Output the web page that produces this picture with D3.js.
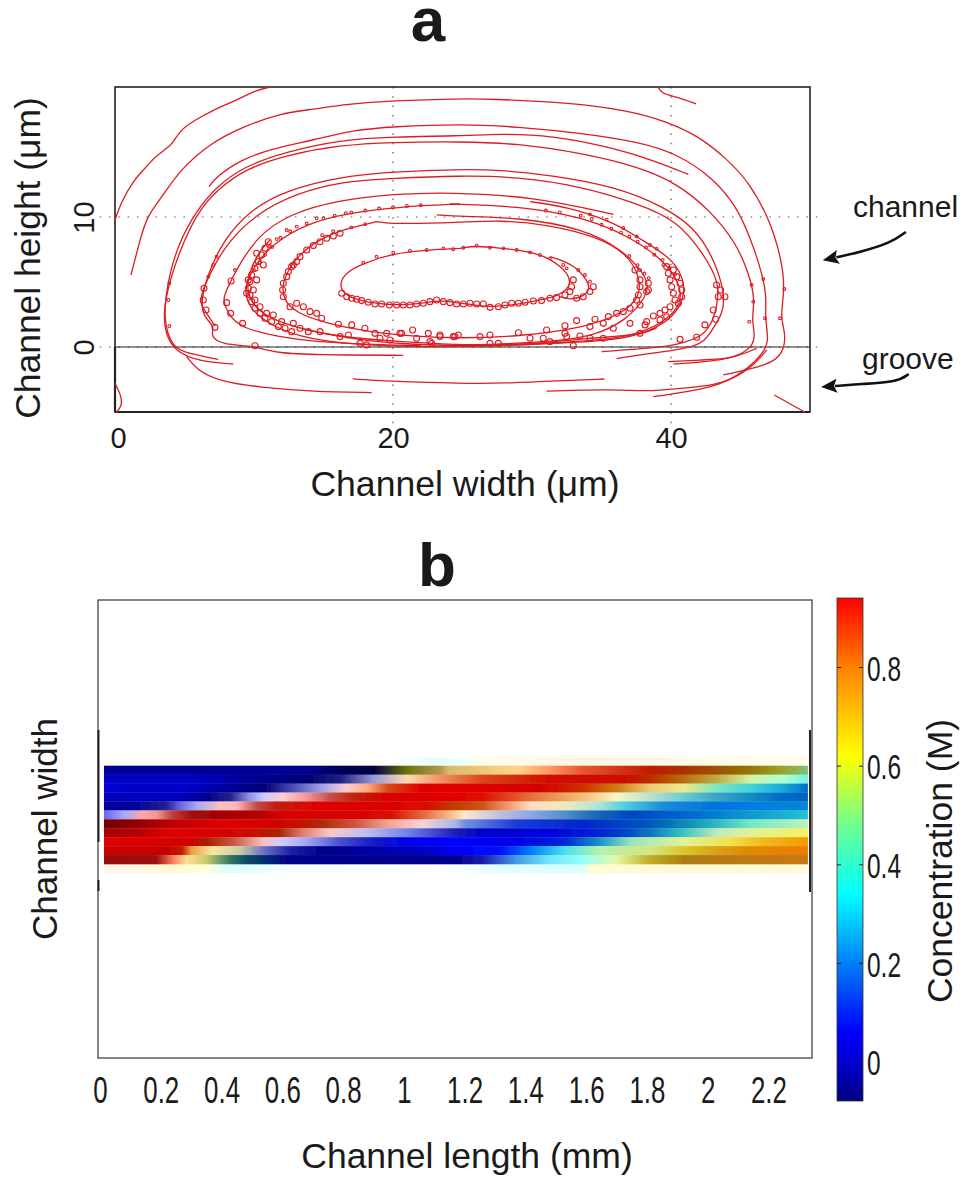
<!DOCTYPE html>
<html>
<head>
<meta charset="utf-8">
<title>Channel flow and concentration</title>
<script src="https://cdnjs.cloudflare.com/ajax/libs/d3/7.8.5/d3.min.js"></script>
<style>
	html, body { margin: 0; padding: 0; background: #fff; }
	svg { display: block; }
	text { font-family: "Liberation Sans", Arial, sans-serif; fill: #1a1a1a; }
	.domain { display: none; }
</style>
</head>
<body>
<svg id="chart" width="962" height="1177"></svg>
<script>
/* panel a: particle paths, channel width (um) / channel height (um) */
const widthTicks = [0, 20, 40];
const heightTicks = [0, 10];
const gridWidths = [20, 40];
const gridHeights = [0, 10];

const streamlines = [
	[[0,9.77],[.36,10.93],[1.32,12.85],[2.4,14.0],[2.76,14.51],[3.6,15.2],[4.08,15.54],[4.68,16.69],[5.76,17.46],[7.07,18.23],[8.51,18.87],[10.19,19.77],[11.15,20.0]],
	[[1.15,5.54],[1.8,8.23],[2.28,10.03],[3.48,11.69],[4.68,13.62],[6.83,15.67],[9.23,16.95],[11.87,17.98],[14.27,18.28],[16.67,18.69],[20.02,18.95],[24.82,19.1],[26.98,19.08],[32.49,18.82],[37.05,18.18],[39.69,17.33],[41.85,16.31],[44,14.51],[45.68,12.59],[47.12,9.77],[47.96,6.69],[48.2,4.51],[47.84,2.21],[48.27,1.05],[48.08,-.48],[47.12,-1.38],[43.76,-2.15]],
	[[6.76,12.33],[7.31,13.1],[8.99,14.39],[11.39,15.28],[14.27,15.92],[17.15,16.69],[20.02,16.95],[24.82,17.16],[28.9,16.95],[33.69,16.44],[37.53,15.8],[40.41,14.9],[43.04,13.0],[44.72,10.8],[45.68,8.49],[46.64,5.41],[46.88,3.62],[46.76,2.21],[47,.8],[46.88,-.23],[45.2,-2.02],[43.04,-3.18],[38.73,-3.82]],
	[[7.43,-.95],[5.16,-.48],[4.08,.03],[3.48,2.08],[3.72,4.64],[4.44,7.72],[5.88,10.54],[7.31,12.33],[9.23,13.87],[12.35,15.03],[16.19,15.92],[20.02,16.18],[24.82,16.23],[27.7,16.39],[31.29,16.31],[36.09,15.28],[38.97,14.26],[41.25,13.28]],
	[[8.51,-1.31],[6.11,-1.13],[4.32,-.36],[3.6,1.05],[3.48,2.85],[3.96,5.16],[4.68,7.46],[5.88,10.28],[7.31,12.08],[9.47,13.75],[12.35,14.77],[16.19,15.54],[20.02,15.75],[24.82,15.8],[28.9,15.67],[33.69,14.9],[37.77,13.82],[40.41,12.59],[42.8,10.54],[44.72,7.98],[45.68,5.41],[46.04,3.62],[45.8,2.08],[46.04,1.05],[45.92,.03],[44.48,-.98],[40.17,-1.31]],
	[[18.46,-3.51],[14.27,-3.43],[10.43,-3.1],[7.55,-2.66],[5.88,-1.77],[5.16,-.75]],
	[[20.74,-.64],[14.51,-.61],[11.63,-.48],[9.95,.1],[7.79,.16],[6.83,.8],[7.19,1.57],[6.59,2.08],[6.11,3.1],[6.59,5.41],[7.79,8.23],[9.71,10.54],[12.35,12.08],[16.19,13.1],[20.02,13.49],[24.82,13.67],[27.7,13.62],[31.29,13.23],[36.09,12.33],[39.45,10.8],[41.61,9.26],[43.04,6.95],[43.88,4.13],[43.76,2.59],[42.8,1.05],[42.09,0],[38.49,-.48],[36.09,-.89]],
	[[35.01,-.36],[39.93,.03],[40.65,.28],[42.32,.8],[43.04,2.08],[43.28,3.1],[43.52,4.9],[42.32,7.21],[40.41,9.77],[37.53,11.05],[33.69,12.33],[28.9,13.1],[24.82,13.18],[20.02,12.98],[16.19,12.72],[13.07,11.82],[10.19,10.28],[8.03,7.98],[6.83,5.67],[6.23,4.13],[6.11,3.36],[6.59,2.59],[7.2,1.6]],
	[[35.85,10.21],[30.1,11.57],[24.1,11.9],[20.02,11.77],[16.19,11.31],[12.59,10.28],[10.19,8.49],[8.75,6.0],[7.91,4.13],[7.79,3.62],[8.03,2.85],[8.39,2.21],[9.23,1.44],[11.63,.8],[14.5,.4],[18,.2],[22,.1]],
	[[29.86,11.18],[32.5,10.8],[35.9,9.6],[37.8,8.3],[39.9,6.95],[40.9,5.4],[41,3.9],[40.2,2.3],[38.5,1.2],[36,.5],[32,.3],[28,.15],[24,.1]],
	[[24.82,11.0],[20.5,10.8],[16.67,10.28],[13.79,9.5],[11.39,7.98],[9.95,6.18],[9.23,4.39],[9.71,2.85],[11.39,1.57],[13.31,.8],[16.19,.28],[20.5,.03],[24.82,.03],[28.5,.1],[33,.4],[35.6,.6],[37.8,1.05],[39.7,2.08],[40.77,3.36],[40.65,4.9],[39.45,6.7],[37.05,8.49],[33.69,10.0],[28.9,10.85],[24.1,11.0]],
	[[23.14,10.16],[24.82,10.03],[28.9,9.98],[33.69,9.13],[36.57,7.46],[38.49,5.16],[38.25,3.87],[36.81,2.08],[34.41,.8],[31.29,.41],[26.5,.16],[24.82,.16],[20.5,.41],[15.71,.8],[11.87,1.82],[10.19,2.85],[9.47,4.13],[9.59,5.67],[10.43,7.46],[11.15,8.23]],
	[[18.82,9.64],[16.67,9.13],[14.51,8.23],[12.83,6.69],[11.99,4.9],[12.11,3.62],[13.07,2.59],[15.23,1.82],[18.1,1.18],[21.7,.8],[24.82,.67],[28.9,.8],[33.69,1.44],[36.57,2.59],[37.77,3.87],[37.77,5.41],[36.81,7.21],[34.65,8.49],[31.29,9.39],[27.7,9.77],[24.82,9.57],[20.02,9.46],[18.82,9.64]],
	[[24.82,7.59],[22.42,7.46],[20.02,7.21],[17.86,6.44],[16.43,5.67],[16.07,4.39],[17.15,3.62],[19.54,3.2],[21.94,3.31],[23.38,3.62],[24.82,3.36],[25.5,3.31],[27.2,3.0],[29.62,3.41],[32.01,3.87],[32.97,4.9],[32.25,6.18],[30.33,7.34],[27.7,7.6],[26,7.8],[24.82,7.59]],
	[[31.29,6.95],[32.97,6.44],[34.41,4.64],[33.69,3.87],[32.73,3.62],[32.01,3.87]],
	[[17.1,-2.45],[20.02,-2.66],[24.82,-2.8],[28,-2.8],[32,-2.6],[35.2,-2.46]],
	[[31.05,-3.4],[35.6,-3.25],[38.73,-3.43],[39.93,-3.2],[43.28,-3.05],[45.68,-1.77],[46.88,-.23]],
	[[39.8,-1.13],[42.09,-1.0],[44.48,-.89],[46.16,-.1]],
	[[47.43,-3.69],[49.64,-5.02]],
	[[0,-2.79],[.48,-3.82],[.48,-4.6],[.07,-5.05]],
	[[39.08,20],[39.3,19.5],[40.4,19.25],[41.8,18.7]],
	[[13.5,1.4],[17,.6],[21,.2],[24.8,.1],[30,.2],[34,.7],[37.8,.9],[39,1.5]]
];

/* loops the particles make on their way round */
const loops = [
	[16.31,4.13],[16.67,3.87],[17.03,3.75],[17.39,3.67],[17.74,3.57],[18.22,3.44],[18.7,3.31],[19.18,3.31],[19.74,3.23],[20.26,3.23],[20.74,3.23],[21.22,3.23],[21.7,3.31],[22.18,3.36],[22.66,3.49],[23.14,3.62],[23.62,3.49],[24.1,3.41],[24.58,3.31],
	[25.06,3.31],[25.54,3.36],[26.02,3.31],[26.5,3.31],[26.98,3.05],[27.58,3.1],[28.06,3.23],[28.54,3.36],[29.02,3.36],[29.5,3.44],[30.1,3.54],[30.69,3.57],[31.29,3.75],[31.77,3.8],[32.37,4.0],[32.73,4.26],[32.85,4.64],[32.97,5.16],[33.21,3.75],[33.69,3.87],[34.17,4.26],[34.41,4.64],
	[12.71,6.18],[12.47,5.8],[12.35,5.41],[12.11,4.9],[12.06,4.39],[12.11,3.87],[12.59,3.1],[13.07,3.36],[13.55,3.1],[14.03,2.72],[14.51,2.59],[14.87,2.21],[16.07,1.75],[17.03,1.7],[17.98,1.44],[18.7,1.05],[19.54,1.05],[20.5,1.05],[21.41,1.31],[22.54,1.05],[23.38,.92],[24.34,.8],
	[13.31,6.95],[13.79,7.46],[14.27,7.8],[14.75,8.1],[15.23,8.36],[15.71,8.54],[16.19,8.75],[13.07,6.57],[12.83,6.31],
	[11.03,8.1],[10.79,7.59],[10.55,7.08],[10.31,6.57],[10.07,6.05],[9.83,5.54],[9.71,5.03],[9.59,4.51],[9.71,4.0],[9.83,3.49],[10.07,2.98],[10.43,2.59],[10.79,2.21],[11.27,1.95],[11.75,1.57],[12.23,1.44],[12.71,1.18],[13.31,1.44],[13.91,1.18],[14.75,1.18],[10.19,5.16],[9.95,4.39],[10.07,3.62],[10.43,3.1],[10.91,2.59],[9.47,4.13],[9.59,5.16],[11.39,2.46],[11.99,1.95],[12.83,1.82],[10.19,7.21],[10.67,6.31],
	[16.19,.8],[16.79,.92],[19.06,.67],[19.78,.54],[20.62,1.05],[21.7,.67],[22.66,.41],[23.38,.8],[24.46,.8],[17.63,.28],[18.1,.16],[22.78,.28],
	[6.4,4.51],[6.35,3.62],[6.55,2.85],[7.19,1.51],[8.35,5.08],[8.03,3.41],[8.32,2.59],[9.18,1.82],[10.07,.1],
	[39.69,6.18],[39.81,5.67],[39.93,5.16],[40.05,4.64],[40.17,4.13],[40.29,3.62],[39.93,3.1],[40.65,4.9],[40.77,4.39],[40.77,3.87],[40.53,3.36],[40.41,5.41],[40.17,5.92],[39.57,2.85],[39.21,2.59],[38.73,2.39],[39.69,2.33],[39.21,2.08],[38.25,1.95],[38.13,1.7],
	[37.65,4.0],[38.25,4.26],[37.53,3.62],[37.77,3.23],[37.05,2.98],[36.57,2.72],[36.09,2.59],[35.49,2.34],[34.53,2.13],[33.21,2.03],[32.37,1.64],[35.13,1.82],[34.17,1.57],[35.85,1.44],[37.05,1.82],[37.77,1.05],[32.49,.8],[33.45,.85],[34.17,.67],[35.13,.67],[31.05,1.31],[32.37,1.05],[30.81,.67],[29.86,.67],[29.02,1.1],[26.98,.92],[26.26,.8],[24.7,.92],[26.98,.28],[27.58,.28],[31.29,.41],[32.97,.1],[37.41,5.92],[37.77,5.16],[37.77,4.64],[38.37,4.9],[38.37,4.39],
	[43.28,4.77],[43.57,4.39],[43.88,3.87],[43.4,3.87],[43.04,2.85],[43.21,2.13],[42.44,1.7],[41.85,.75],[40.65,.59]
];
const tinyLoops = [
	[24.34,7.52],[25.06,7.64],[26.02,7.8],[26.98,7.64],[27.94,7.59],[28.9,7.46],[29.86,7.28],[30.57,7.08],[17.86,6.49],[18.82,6.95],[20.02,7.26],[21.22,7.41],[22.42,7.46],[23.62,7.59],[31.29,6.82],[32.25,6.31],[32.49,6.05],[33.33,5.92],[33.81,5.54],[34.17,5.03],
	[38.97,7.55],[38.49,7.85],[37.53,8.5],[36.57,9.15],[35.37,9.8],[34.17,10.2],[39.45,6.31],[37.77,5.92],
	[12.35,9.0],[13.07,9.26],[13.79,9.5],[14.51,9.9],[11.63,8.3],[11.15,7.75],[7.31,6.95],[7.07,6.31],[6.71,5.41],[8.63,5.92],[3.91,4.9],[3.84,3.62],[3.91,1.62],
	[45.92,3.49],[45.63,1.95],[46.76,2.21],[47.84,2.21],[48.15,4.46],[46.64,5.23],[45.8,4.77],
	[35,9.4],[35.7,9.1],[36.4,8.8],[37,8.5],[37.6,8.1],[38.2,7.65],[38.8,7.1],[39.4,6.7],[39.9,6.1],[40.3,5.6],[33.5,10.1],[34.3,9.85],[31,10.5],[32,10.35],[37,7,7],[37.6,6.3],[38.1,5.65],[38.4,5.3],
	[15,9.9],[15.8,10.1],[16.6,10.3],[12.6,8.9],[11.9,8.4],[11.3,7.7],[10.8,7.1],[10.4,6.5],[10,5.9],[9.7,5.3],
	[14.9,8.6],[15.7,8.9],[17,9.2],[18,9.45],[17,10.35],[18,10.5],[19,10.65],[20,10.75],[21,10.85],[22,10.9]
];

const calloutLabels = ["channel", "groove"];
const channelArrow = [[56.9,8.85],[55.8,8.0],[53.6,7.3],[51.9,6.9]];
const grooveArrow = [[57.1,-2.08],[56.3,-2.69],[53.6,-2.85],[51.8,-3.0]];

/* panel b: concentration bands, each stop is [length mm, concentration M, fade to white, fade to black] */
const lengthTicks = [0, 0.2, 0.4, 0.6, 0.8, 1, 1.2, 1.4, 1.6, 1.8, 2, 2.2];
const concentrationTicks = [0, 0.2, 0.4, 0.6, 0.8];

const bands = [
	[[.013,-.06],[.68,-.06],[.79,-.07,0,.35],[.9,-.08,0,.5],[1.01,.6,0,.55],[1.12,.72,.45,.3],[1.15,.72,.5,.15],[1.37,.76,.55],[1.48,.85,.4],[1.59,.88,.2,.1],[1.81,.9,0,.25],[1.92,.86,0,.33],[2.03,.8,0,.37],[2.14,.7,.05,.42],[2.25,.6,.2,.35],[2.33,.5,.3,.25]],
	[[.013,-.01],[.3,-.01],[.52,-.06],[.68,-.08,0,.1],[.79,0,.2,.4],[.9,.06,.7,.15],[1.01,.8,.7],[1.12,.85,.4,.05],[1.26,.87,.1,.15],[1.48,.92,0,.2],[1.7,.93,0,.2],[1.81,.88,0,.25],[1.92,.77,.05,.28],[2.03,.68,.35,.25],[2.14,.55,.55,.05],[2.25,.45,.5],[2.33,.38,.4,.05]],
	[[.013,0],[.3,-.01],[.46,-.065],[.54,-.07,0,.15],[.63,.06,.4,.3],[.73,.06,.7,.1],[.81,.94,.8],[.88,.85,.5],[.95,.87,.1,.15],[1.06,.94,0,.13],[1.26,.94,0,.12],[1.48,.93,0,.18],[1.59,.87,0,.2],[1.7,.78,.1,.2],[1.81,.72,.5,.08],[1.92,.62,.6,.08],[2.03,.42,.4,.1],[2.14,.33,.3,.15],[2.25,.27,.1,.15],[2.33,.2,0,.15]],
	[[.013,-.02],[.27,-.02],[.35,-.065],[.43,.06,.25,.45],[.49,.06,.62,.1],[.54,.06,.8],[.6,.94,.8],[.68,.94,.62,.05],[.76,.94,.38,.22],[.84,.9,.05,.25],[.95,.94,0,.15],[1.17,.94,0,.12],[1.26,.92,0,.13],[1.42,.85,.25,.1],[1.59,.77,.5,.05],[1.7,.62,.8,.03],[1.81,.45,.75,.12],[1.92,.33,.5,.18],[2.03,.27,.3,.22],[2.14,.25,.1,.22],[2.25,.2,0,.18],[2.33,.2,0,.22]],
	[[.013,-.05],[.11,-.05],[.22,-.06,.15,.1],[.26,.06,.45,.15],[.32,.06,.7,.05],[.4,.94,.75],[.45,.94,.72],[.515,.94,.4,.25],[.58,.92,.08,.23],[.73,.94,0,.12],[1.06,.93,0,.15],[1.17,.85,0,.25],[1.26,.84,.1,.2],[1.35,.85,.5,.05],[1.42,.8,.75],[1.53,.62,.8,.08],[1.64,.4,.7,.1],[1.73,.3,.35,.12],[1.86,.22,.1,.12],[2.03,.2,0,.1],[2.14,.21,0,.08],[2.33,.23,0,.13]],
	[[.013,.06,.45,.1],[.077,.06,.65],[.14,.94,.65],[.186,.94,.62,.05],[.24,.94,.32,.25],[.3,.94,.1,.37],[.405,.94,0,.37],[.515,.94,0,.3],[.625,.94,0,.15],[.95,.93,0,.15],[1.06,.87,.25,.1],[1.17,.78,.62,.03],[1.2,.78,.8],[1.315,.06,.85,.12],[1.42,.13,.62,.1],[1.53,.2,.4,.2],[1.64,.2,.1,.27],[1.75,.16,0,.22],[1.92,.19,0,.16],[2.14,.26,.05,.17],[2.33,.31,.18,.17]],
	[[.013,.94,.05,.55],[.11,.94,0,.43],[.24,.94,0,.25],[.405,.94,0,.12],[.625,.93,0,.2],[.73,.88,.05,.33],[.84,.9,.3,.18],[.95,.9,.62,.05],[1.06,.94,.85,.02],[1.17,.13,.7,.08],[1.2,.13,.5,.1],[1.37,.11,.12,.15],[1.59,.11,0,.18],[1.81,.19,0,.25],[1.92,.26,.05,.27],[2.03,.33,.25,.25],[2.14,.41,.38,.1],[2.33,.5,.55,.05]],
	[[.013,.94,0,.37],[.11,.94,.02,.3],[.22,.94,0,.12],[.46,.93,0,.18],[.59,.88,0,.33],[.67,.9,.5,.12],[.76,.94,.8,.02],[.88,.06,.78,.05],[1.01,.1,.5,.1],[1.17,.06,.15,.28],[1.26,-.01],[1.48,.02],[1.7,.13,0,.18],[1.81,.22,.05,.22],[1.92,.33,.3,.22],[2.03,.5,.6,.08],[2.14,.58,.55,.05],[2.33,.62,.4,.05]],
	[[.013,.94,0,.12],[.296,.94,0,.18],[.35,.89,0,.33],[.44,.9,.35,.22],[.537,.94,.77,.02],[.6,.06,.8],[.68,.06,.68,.05],[.79,.08,.35,.2],[.9,.07,.1,.22],[1.01,.04],[1.17,.06],[1.37,.03],[1.53,.11,0,.15],[1.64,.25,.1,.2],[1.75,.45,.5,.1],[1.92,.58,.55,.05],[2.08,.66,.3,.05],[2.19,.72,.12,.05],[2.33,.75,0,.05]],
	[[.013,.94,0,.22],[.22,.94,0,.22],[.27,.9,0,.25],[.3,.78,.25,.08],[.37,.7,.65,.02],[.46,.62,.8,.2],[.54,.06,.55,.22],[.625,.06,.2,.35],[.73,-.07],[1.06,-.01],[1.17,.05],[1.32,.08],[1.42,.2],[1.53,.31,.3,.05],[1.64,.5,.45,.05],[1.81,.58,.5,.1],[1.92,.66,.2,.15],[2.03,.72,.1,.15],[2.14,.76,0,.12],[2.33,.8,0,.05]],
	[[.013,.94,.08,.42],[.186,.94,.08,.37],[.24,.88,.38,.03],[.285,.74,.6],[.35,.6,.5,.2],[.43,.4,.3,.55],[.49,.25,.08,.6],[.625,-.07],[1.17,-.065],[1.26,.05,.15,.3],[1.37,.2,.3,.08],[1.48,.29,.45],[1.59,.36,.55],[1.7,.58,.6,.03],[1.81,.66,.2,.25],[1.92,.72,.1,.33],[2.03,.76,.12,.28],[2.33,.78,.1,.22]]
];
/* faint fringe just outside the top and bottom bands */
const topFringe = [[.95,.34,1],[1.1,.34,.9],[1.2,.34,.93],[1.25,.66,.9],[1.6,.7,.88],[2.33,.66,.92]];
const bottomFringe = [[.013,.8,.93],[.25,.66,.82],[.35,.62,.85],[.42,.34,.85],[.6,.34,.95],[1.15,.34,1],[1.3,.34,.88],[1.59,.34,.85],[1.61,.66,.82],[2.33,.66,.85]];

const jetDomain = [-.08, 0, .06, .2, .34, .48, .62, .8, .94];
const jetColors = ["#00007f", "#0000d0", "#0000ff", "#0080f5", "#00ffff", "#70ff90", "#ffff00", "#ff8000", "#ff0000"];

const svg = d3.select("#chart");
const redLine = "#dc1c22";

/* shared blur, the source figure is a soft scan */
const defs = svg.append("defs");
defs.append("filter").attr("id", "soft").attr("x", "-5%").attr("y", "-5%").attr("width", "110%").attr("height", "110%")
	.append("feGaussianBlur").attr("stdDeviation", 0.3);
defs.append("marker").attr("id", "arrow").attr("viewBox", "0 0 16 16").attr("refX", 2).attr("refY", 8)
	.attr("markerWidth", 16).attr("markerHeight", 16).attr("markerUnits", "userSpaceOnUse").attr("orient", "auto")
	.append("path").attr("d", "M0,1 L16,8 L0,15 L3,8 Z").attr("fill", "#111");

/* ---------- panel a ---------- */
const x = d3.scaleLinear().domain([0, 50]).range([115, 810]);
const y = d3.scaleLinear().domain([-5, 20]).range([412, 87]);

svg.append("text").attr("x", 428).attr("y", 41).attr("text-anchor", "middle")
	.attr("font-size", 62).attr("font-weight", "bold").text("a");

const grid = svg.append("g").attr("stroke", "#555").attr("stroke-dasharray", "1.5 7.8").attr("stroke-width", 1.2);
grid.selectAll("line.w").data(gridWidths).join("line").attr("class", "w")
	.attr("x1", d => x(d)).attr("x2", d => x(d)).attr("y1", y(20)).attr("y2", y(-6));
grid.selectAll("line.h").data(gridHeights).join("line").attr("class", "h")
	.attr("x1", x(-1.1)).attr("x2", x(50.6)).attr("y1", d => y(d)).attr("y2", d => y(d));

const frame = svg.append("g").attr("fill", "none").attr("stroke", "#222");
frame.append("rect").attr("x", x(0)).attr("y", y(20)).attr("width", x(50) - x(0)).attr("height", y(-5) - y(20)).attr("stroke-width", 1.6);
frame.append("line").attr("x1", x(0)).attr("x2", x(50)).attr("y1", y(0)).attr("y2", y(0)).attr("stroke-width", 1.2);
frame.append("line").attr("x1", x(0)).attr("x2", x(0)).attr("y1", y(0)).attr("y2", y(-5)).attr("stroke-width", 2.2);
frame.append("line").attr("x1", x(0)).attr("x2", x(50)).attr("y1", y(-5)).attr("y2", y(-5)).attr("stroke-width", 2.2);

const flow = svg.append("g").attr("filter", "url(#soft)").attr("fill", "none").attr("stroke", redLine);
const pathLine = d3.line().x(d => x(d[0])).y(d => y(d[1])).curve(d3.curveBasis);
flow.selectAll("path").data(streamlines).join("path").attr("d", pathLine).attr("stroke-width", 1.3);
flow.selectAll("circle.loop").data(loops).join("circle").attr("class", "loop")
	.attr("cx", d => x(d[0])).attr("cy", d => y(d[1])).attr("r", 3).attr("stroke-width", 1.1);
flow.selectAll("circle.tiny").data(tinyLoops).join("circle").attr("class", "tiny")
	.attr("cx", d => x(d[0])).attr("cy", d => y(d[1])).attr("r", 1.4).attr("stroke-width", 1.1);

const xAxisA = svg.append("g").attr("transform", `translate(0,${y(-5)})`)
	.call(d3.axisBottom(x).tickValues(widthTicks).tickSize(0).tickPadding(15));
xAxisA.selectAll("text").attr("font-size", 29).attr("fill", "#222");
xAxisA.selectAll(".tick text").attr("dx", d => d === 0 ? 3 : 0);

const yAxisA = svg.append("g").attr("transform", `translate(${x(0)},0)`)
	.call(d3.axisLeft(y).tickValues(heightTicks).tickSize(0));
yAxisA.selectAll("text").attr("font-size", 29).attr("fill", "#222").attr("x", null).attr("dy", null)
	.attr("text-anchor", "middle").attr("transform", "translate(-21,0) rotate(-90)");

svg.append("text").attr("x", 465).attr("y", 496).attr("text-anchor", "middle").attr("font-size", 35.6).text("Channel width (μm)");
svg.append("text").attr("transform", "translate(40,258) rotate(-90)").attr("text-anchor", "middle").attr("font-size", 35.4).text("Channel height (μm)");

const calloutLine = d3.line().x(d => x(d[0])).y(d => y(d[1])).curve(d3.curveBasis);
svg.selectAll("path.callout").data([channelArrow, grooveArrow]).join("path").attr("class", "callout")
	.attr("d", calloutLine).attr("fill", "none").attr("stroke", "#111").attr("stroke-width", 2.6)
	.attr("marker-end", "url(#arrow)");
svg.selectAll("text.callout").data(calloutLabels).join("text").attr("class", "callout")
	.attr("x", (d, i) => i ? 862 : 853).attr("y", (d, i) => i ? 369 : 217).attr("font-size", 30).text(d => d);

/* ---------- panel b ---------- */
const xLen = d3.scaleLinear().domain([0, 2.35]).range([100, 814]);
const bandY = d3.scaleBand().domain(d3.range(bands.length)).range([765.7, 864]);
const jet = d3.scaleLinear().domain(jetDomain).range(jetColors).clamp(true);

svg.append("text").attr("x", 437).attr("y", 586).attr("text-anchor", "middle")
	.attr("font-size", 62).attr("font-weight", "bold").text("b");

/* concentration through the colour bar scale, then faded */
function stopColor(s) {
	const c = d3.rgb(jet(s[1]));
	const w = s[2] || 0;
	const k = 1 - (s[3] || 0);
	return d3.rgb((c.r + (255 - c.r) * w) * k, (c.g + (255 - c.g) * w) * k, (c.b + (255 - c.b) * w) * k).formatHex();
}

function bandGradient(id, stops) {
	const g = defs.append("linearGradient").attr("id", id).attr("gradientUnits", "userSpaceOnUse")
		.attr("x1", xLen(0)).attr("x2", xLen(2.35)).attr("y1", 0).attr("y2", 0);
	g.selectAll("stop").data(stops).join("stop")
		.attr("offset", d => (xLen(d[0]) - xLen(0)) / (xLen(2.35) - xLen(0)))
		.attr("stop-color", stopColor);
	return `url(#${id})`;
}

const heat = svg.append("g").attr("filter", "url(#soft)");
heat.append("rect").attr("x", xLen(.95)).attr("y", 757).attr("width", xLen(2.33) - xLen(.95)).attr("height", bandY(0) - 757)
	.attr("fill", bandGradient("fringe-top", topFringe));
heat.append("rect").attr("x", xLen(.013)).attr("y", 864).attr("width", xLen(2.33) - xLen(.013)).attr("height", 9)
	.attr("fill", bandGradient("fringe-bottom", bottomFringe));
heat.selectAll("rect.band").data(bands).join("rect").attr("class", "band")
	.attr("x", xLen(.013)).attr("width", xLen(2.33) - xLen(.013))
	.attr("y", (d, i) => bandY(i)).attr("height", bandY.bandwidth() + 0.3)
	.attr("fill", (d, i) => bandGradient(`band-${i}`, d));

svg.append("rect").attr("x", 98).attr("y", 600).attr("width", 714).attr("height", 458)
	.attr("fill", "none").attr("stroke", "#333").attr("stroke-width", 1.2);
const sideMarks = svg.append("g").attr("stroke", "#222");
sideMarks.append("line").attr("x1", 98.5).attr("x2", 98.5).attr("y1", 730).attr("y2", 842).attr("stroke-width", 2);
sideMarks.append("line").attr("x1", 98.5).attr("x2", 98.5).attr("y1", 880).attr("y2", 891).attr("stroke-width", 2);
sideMarks.append("line").attr("x1", 810).attr("x2", 810).attr("y1", 730).attr("y2", 892).attr("stroke-width", 2);

const narrow = 0.7;
const xAxisB = svg.append("g").attr("transform", "translate(0,1058)")
	.call(d3.axisBottom(xLen).tickValues(lengthTicks).tickFormat(d => d).tickSize(0).tickPadding(18.5));
xAxisB.selectAll("text").attr("font-size", 37).attr("fill", "#222").attr("transform", `scale(${narrow},1)`);

svg.append("text").attr("x", 467).attr("y", 1168).attr("text-anchor", "middle").attr("font-size", 35.5).text("Channel length (mm)");
svg.append("text").attr("transform", "translate(57,829) rotate(-90)").attr("text-anchor", "middle").attr("font-size", 35).text("Channel width");

/* colour bar */
const barY = d3.scaleLinear().domain([-.08, .94]).range([1101, 598]);
const barGrad = defs.append("linearGradient").attr("id", "bar").attr("gradientUnits", "userSpaceOnUse")
	.attr("x1", 0).attr("x2", 0).attr("y1", barY(-.08)).attr("y2", barY(.94));
barGrad.selectAll("stop").data(jetDomain).join("stop")
	.attr("offset", d => (d + .08) / 1.02).attr("stop-color", d => jet(d));
svg.append("rect").attr("x", 837).attr("y", barY(.94)).attr("width", 26).attr("height", barY(-.08) - barY(.94))
	.attr("fill", "url(#bar)").attr("stroke", "#333").attr("stroke-width", 0.8);

const barRight = svg.append("g").attr("transform", "translate(863,0)")
	.call(d3.axisRight(barY).tickValues(concentrationTicks).tickFormat(d => d).tickSize(-4).tickPadding(0));
barRight.selectAll("text").attr("font-size", 35).attr("fill", "#222").attr("x", 4 / narrow).attr("dy", "0.38em")
	.attr("transform", `scale(${narrow},1)`);
barRight.selectAll("line").attr("stroke", "#222");
svg.append("g").attr("transform", "translate(837,0)")
	.call(d3.axisLeft(barY).tickValues(concentrationTicks).tickFormat("").tickSize(-4))
	.selectAll("line").attr("stroke", "#222");

svg.append("text").attr("transform", "translate(952,861) rotate(-90)").attr("text-anchor", "middle").attr("font-size", 35.5).text("Concentration (M)");
</script>
</body>
</html>
